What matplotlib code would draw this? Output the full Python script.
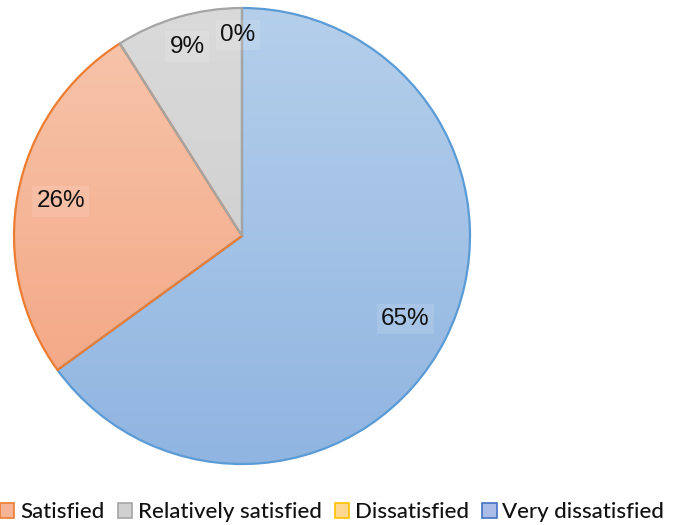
import numpy as np
import matplotlib.pyplot as plt
from matplotlib.patches import Patch
from matplotlib.colors import to_rgb

labels = ['Very satisfied', 'Satisfied', 'Relatively satisfied', 'Dissatisfied', 'Very dissatisfied']
values = [65, 26, 9, 0, 0]
edge_colors = ['#5b9bd5', '#ed7d31', '#a5a5a5', '#ffc000', '#4472c4']
top_colors = ['#b5cfeb', '#f7c6ad', '#dadada', '#ffe4a6', '#b8c9ec']
bottom_colors = ['#90b5e1', '#f3a27d', '#c9c9c9', '#ffd27a', '#97b0e2']
legend_fill = ['#a3c2e6', '#f5b496', '#d0d0d0', '#fdd88e', '#a9bde8']

fig = plt.figure(figsize=(6.73, 5.25), dpi=100)
ax = fig.add_axes([0, 0, 1, 1])
W, H = 673, 525
cx, cy, R = 242, 289, 228

wedges, texts, autotexts = ax.pie(
    values, startangle=90, counterclock=False, center=(cx, cy), radius=R,
    autopct=lambda p: '%d%%' % round(p), pctdistance=0.81, frame=True,
    wedgeprops=dict(linewidth=1.6, edgecolor='none', facecolor='none'),
    textprops=dict(fontsize=17.5, family='Liberation Sans', color='#111111'))

# vertical gradient fill clipped to each wedge
n = 256
for w, v, c0, c1, ec in zip(wedges, values, top_colors, bottom_colors, edge_colors):
    if v == 0:
        w.set_visible(False)
        continue
    t = np.linspace(0, 1, n)[:, None]
    grad = (1 - t) * np.array(to_rgb(c0)) + t * np.array(to_rgb(c1))
    img = np.repeat(grad[:, None, :], 2, axis=1)
    im = ax.imshow(img, extent=[cx - R, cx + R, cy - R, cy + R], origin='upper',
                   aspect='auto', zorder=1, interpolation='bilinear')
    im.set_clip_path(w)
    w.set_edgecolor(ec)
    w.set_zorder(2)

# label radii as placed in the original
radii = [0.805, 0.81, 0.865, 0.88, 0.88]
for w, at, rr in zip(wedges, autotexts, radii):
    ang = np.deg2rad((w.theta1 + w.theta2) / 2)
    at.set_position((cx + rr * R * np.cos(ang), cy + rr * R * np.sin(ang)))
    at.set_bbox(dict(facecolor='white', alpha=0.12, edgecolor='none', pad=3))
    at.set_zorder(3)
autotexts[3].set_position((cx - 4, cy + 201))
autotexts[4].set_visible(False)

# the legend in the source image is cropped: first entry is off the left edge
handles = [Patch(facecolor=f, edgecolor=e, linewidth=1.2) for f, e in zip(legend_fill, edge_colors)]
ax.legend(handles[1:], labels[1:], loc='center left', bbox_to_anchor=(0.0, (H - 512) / H), ncol=4,
          frameon=False, prop=dict(family='Lato', size=16, weight='medium'), handlelength=0.65,
          handleheight=0.65, handletextpad=0.25, columnspacing=0.6, borderpad=0,
          borderaxespad=0, labelcolor='#111111')

ax.set_xlim(0, W)
ax.set_ylim(0, H)
ax.axis('off')
fig.savefig('out.png', dpi=100)
